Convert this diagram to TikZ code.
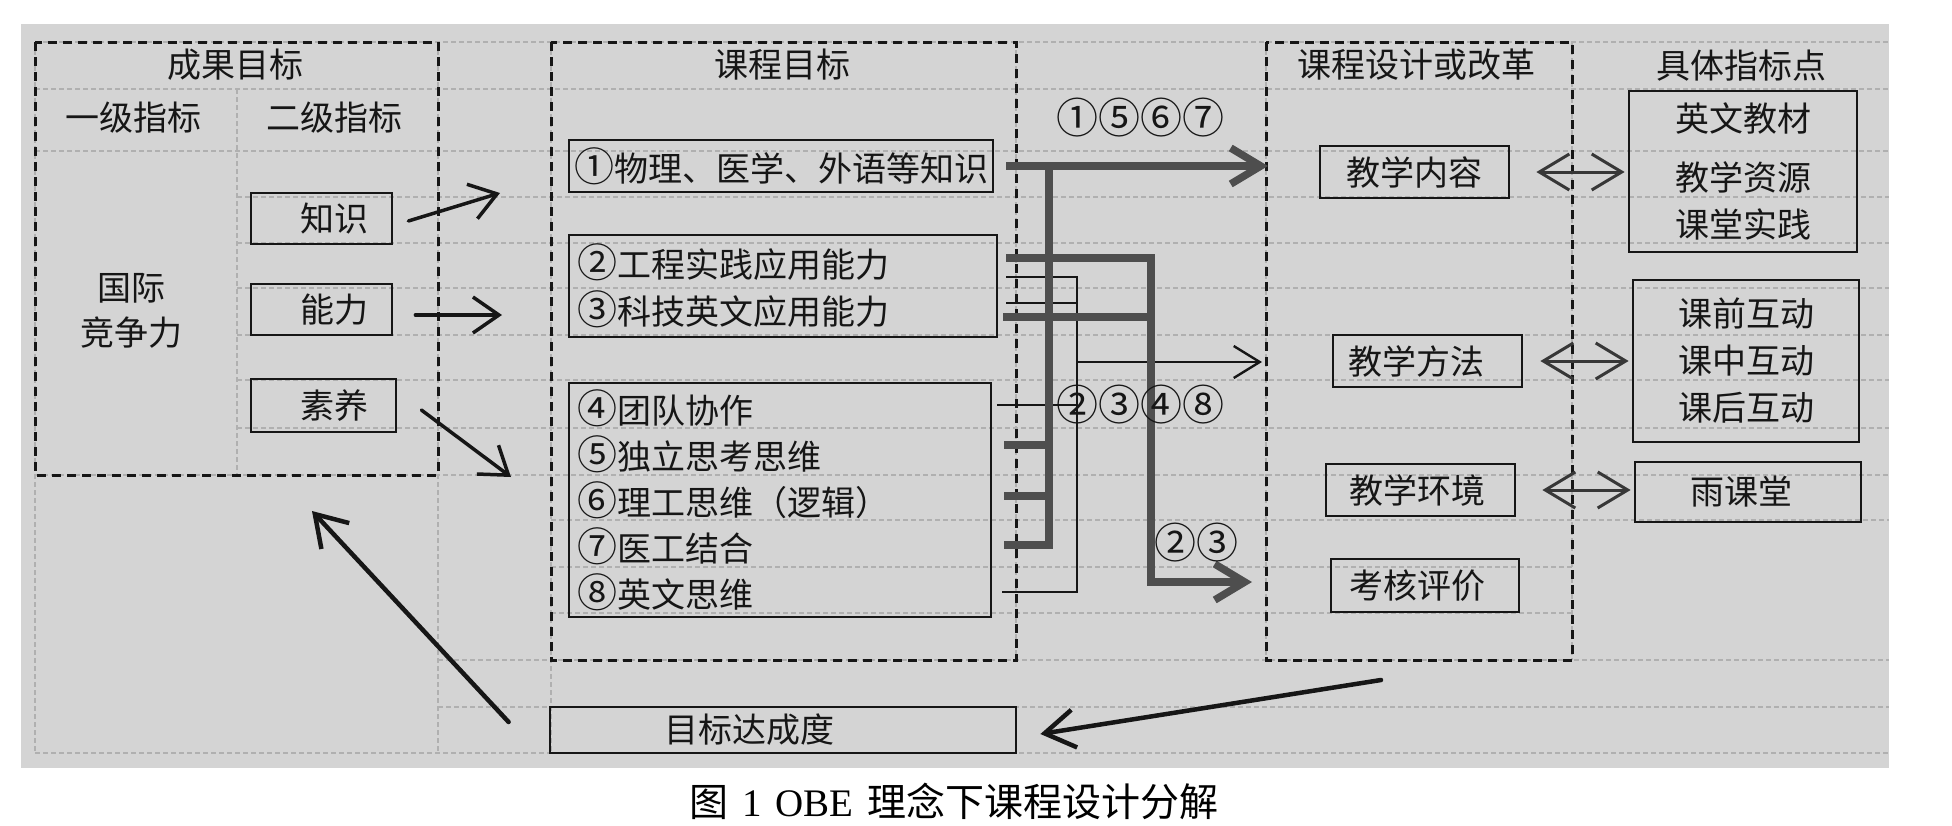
\documentclass[tikz,border=0pt]{standalone}
\usepackage{fontspec}
\setmainfont{Noto Sans CJK SC}
\newfontfamily\capserif{Liberation Serif}
\usetikzlibrary{arrows.meta}
\definecolor{bggray}{RGB}{212,212,212}
\definecolor{gridgray}{RGB}{176,176,176}
\definecolor{linkgray}{RGB}{78,78,78}
\definecolor{ink}{RGB}{22,22,22}
\newcommand{\circd}[1]{{\fontsize{40}{40}\selectfont #1}}
\tikzset{
  gridline/.style={draw=gridgray, line width=1.5pt, dash pattern=on 5pt off 3pt},
  groupbox/.style={draw=ink, line width=3pt, dash pattern=on 9pt off 6pt},
  itembox/.style={draw=ink, line width=2.8pt, inner sep=0pt},
  txt/.style={inner sep=0pt, text=ink, font=\fontsize{34}{40}\selectfont},
  numlabel/.style={inner sep=0pt, text=ink, font=\fontsize{42}{46}\selectfont},
  goalarrow/.style={draw=ink, line width=3.5pt, line cap=round, -{Straight Barb[length=26pt,width=36pt]}},
  backarrow/.style={draw=ink, line width=4.5pt, line cap=round, -{Straight Barb[length=30pt,width=38pt]}},
  thicklink/.style={draw=linkgray, line width=7.5pt},
  thinlink/.style={draw=ink, line width=2.4pt},
  thickhead/.style={-{Straight Barb[length=30pt,width=36pt]}},
  thinhead/.style={-{Straight Barb[length=26pt,width=32pt]}},
  twoway/.style={draw=linkgray!70!black, line width=3pt, {Straight Barb[length=30pt,width=36pt]}-{Straight Barb[length=30pt,width=36pt]}},
}
\begin{document}
\begin{tikzpicture}[x=1pt,y=-1pt]
\useasboundingbox (0,0) rectangle (1952,825);
\fill[bggray] (21,24) rectangle (1889,768);

% faint spreadsheet grid
\foreach \y in {42,89,151,475,753} \draw[gridline] (35,\y) -- (1889,\y);
\foreach \y in {197,243,288,335,380,428} \draw[gridline] (237,\y) -- (1889,\y);
\draw[gridline] (551,520) -- (1889,520);
\foreach \y in {567,613} \draw[gridline] (551,\y) -- (1572,\y);
\foreach \y in {660,707} \draw[gridline] (438,\y) -- (1889,\y);
\foreach \x in {35,438,551} \draw[gridline] (\x,42) -- (\x,753);
\draw[gridline] (237,89) -- (237,475);
\foreach \x in {1016,1266,1572} \draw[gridline] (\x,42) -- (\x,660);

% group frames
\draw[groupbox] (35,42) rectangle (438,475);
\draw[groupbox] (551,42) rectangle (1016,660);
\draw[groupbox] (1266,42) rectangle (1572,660);

% titles
\node[txt] (tcg) at (235,65) {成果目标};
\node[txt] (t1j) at (133,118) {一级指标};
\node[txt] (t2j) at (334,118) {二级指标};
\node[txt, align=center, font=\fontsize{34}{45}\selectfont] (gjjz) at (131,311) {国际\\竞争力};
\node[txt] (tkc) at (782,65) {课程目标};
\node[txt] (tsj) at (1416,65) {课程设计或改革};
\node[txt] (tzb) at (1741,66) {具体指标点};

% outcome boxes
\node[itembox, txt, minimum width=141pt, minimum height=51pt] (zs) at (321.5,218.5) {\hspace*{25pt}知识};
\node[itembox, txt, minimum width=141pt, minimum height=51pt] (nl) at (321.5,309.5) {\hspace*{25pt}能力};
\node[itembox, txt, minimum width=145pt, minimum height=53pt] (sy) at (323.5,405.5) {\hspace*{21pt}素养};

% course goal boxes
\node[itembox, txt, minimum width=424pt, minimum height=52pt] (g1) at (781,166) {\circd{①}物理、医学、外语等知识};
\node[itembox, txt, minimum width=428pt, minimum height=102pt, text width=412pt, align=left, font=\fontsize{34}{47}\selectfont] (g23) at (783,286) {\circd{②}工程实践应用能力\\\circd{③}科技英文应用能力};
\node[itembox, txt, minimum width=422pt, minimum height=234pt, text width=406pt, align=left, font=\fontsize{34}{46}\selectfont] (g48) at (780,500) {\circd{④}团队协作\\\circd{⑤}独立思考思维\\\circd{⑥}理工思维（逻辑）\\\circd{⑦}医工结合\\\circd{⑧}英文思维};
\node[itembox, txt, minimum width=466pt, minimum height=46pt] (dc) at (783,730) {目标达成度\hspace*{68pt}};

% design boxes
\node[itembox, txt, minimum width=189pt, minimum height=52pt] (nr) at (1414.5,172) {教学内容};
\node[itembox, txt, minimum width=189pt, minimum height=52pt] (ff) at (1427.5,361) {教学方法\hspace*{23pt}};
\node[itembox, txt, minimum width=189pt, minimum height=52pt] (hj) at (1420.5,490) {教学环境\hspace*{7pt}};
\node[itembox, txt, minimum width=188pt, minimum height=53pt] (kh) at (1425,585.5) {考核评价\hspace*{16pt}};

% indicator boxes
\node[itembox, txt, minimum width=228pt, minimum height=161pt, align=center, font=\fontsize{34}{47}\selectfont] (zy1) at (1743,171.5) {英文教材\\[12pt]教学资源\\课堂实践};
\node[itembox, txt, minimum width=226pt, minimum height=162pt, align=center, font=\fontsize{34}{47}\selectfont] (zy2) at (1746,361) {课前互动\\课中互动\\课后互动};
\node[itembox, txt, minimum width=226pt, minimum height=60pt] (yk) at (1748,492) {雨课堂\hspace*{14pt}};

% outcome -> goal arrows
\coordinate (e1) at (500,193);
\coordinate (e2) at (502,315);
\coordinate (e3) at (511,477);
\draw[goalarrow] ([xshift=15pt,yshift=-2.5pt]zs.east) -- (e1);
\draw[goalarrow] ([xshift=22pt,yshift=-5.5pt]nl.east) -- (e2);
\draw[goalarrow] ([xshift=24pt,yshift=-4.5pt]sy.east) -- (e3);

% connector start and end points
\coordinate (c1) at (1006,166);
\coordinate (c2t) at (1006,258);
\coordinate (c2n) at (1006,277);
\coordinate (c3n) at (1006,303);
\coordinate (c3t) at (1003,317);
\coordinate (c4) at (997,405);
\coordinate (c5) at (1004,445);
\coordinate (c6) at (1004,496);
\coordinate (c7) at (1004,545);
\coordinate (c8) at (1002,592);
\coordinate (busA) at (1049,0);
\coordinate (busB) at (1151,0);
\coordinate (busC) at (1077,0);
\coordinate (t1) at (1268,166);
\coordinate (t2) at (1262,362);
\coordinate (t3) at (1252,582);

% thin links (2,3,4,8 -> methods)
\draw[thinlink] (c2n) -- (c2n -| busC) -- (c8 -| busC) -- (c8);
\draw[thinlink] (c3n) -- (c3n -| busC);
\draw[thinlink] (c4) -- (c4 -| busC);
\draw[thinlink, thinhead] (t2 -| busC) -- (t2);

% thick links (1,5,6,7 -> content)
\draw[thicklink] (c5) -- (c5 -| busA);
\draw[thicklink] (c6) -- (c6 -| busA);
\draw[thicklink] (c7) -- (c7 -| busA) -- (c1 -| busA);
\draw[thicklink, thickhead] (c1) -- (t1);

% thick links (2,3 -> assessment)
\draw[thicklink] (c3t) -- (c3t -| busB);
\draw[thicklink, thickhead] (c2t) -- (c2t -| busB) -- (t3 -| busB) -- (t3);

% labels
\node[numlabel] (l1) at (1140,118) {①⑤⑥⑦};
\node[numlabel] (l2) at (1140,405) {②③④⑧};
\node[numlabel] (l3) at (1196,543) {②③};

% two-way arrows
\draw[twoway, shorten <=26pt, shorten >=3pt] (nr.east) -- (nr.east -| zy1.west);
\draw[twoway, shorten <=17pt, shorten >=3pt] (ff.east) -- (ff.east -| zy2.west);
\draw[twoway, shorten <=26pt, shorten >=3pt] (hj.east) -- (hj.east -| yk.west);

% feedback arrows
\coordinate (rs1) at (1381,680);
\coordinate (re2) at (312,511);
\draw[backarrow] (rs1) -- ([xshift=23pt,yshift=-4pt]dc.east);
\draw[backarrow] ([xshift=-40pt,yshift=8pt]dc.west) -- (re2);

% caption
\node[inner sep=0pt, text=black, font=\fontsize{39}{44}\selectfont] (cap) at (954,801) {图\hspace*{14pt}{\capserif 1\hspace*{14pt}OBE}\hspace*{14pt}理念下课程设计分解};
\end{tikzpicture}
\end{document}
